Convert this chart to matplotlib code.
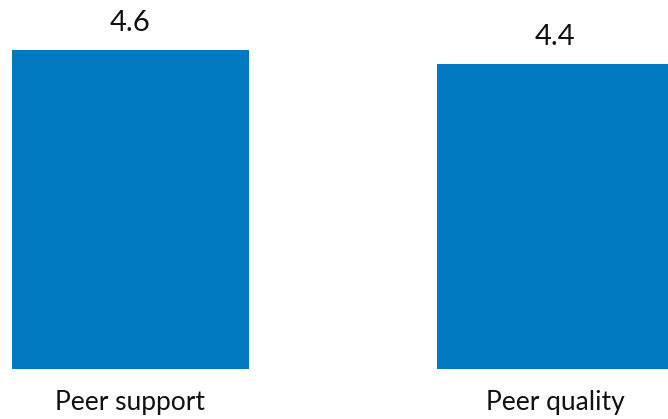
import matplotlib
matplotlib.use('Agg')
from matplotlib import pyplot as plt

# 数据
categories = ['Peer support', 'Peer quality']
values = [4.6, 4.4]
value_labels = ['4.6', '4.4']

plt.rcParams['font.family'] = ['Lato', 'DejaVu Sans']

fig = plt.figure(figsize=(6.68, 4.19), dpi=100)
ax = fig.add_axes([0, 0.1193, 1, 0.8807])

x = list(range(len(categories)))
bars = ax.bar(x, values, width=0.558, color='#0079C1')

for b, lab in zip(bars, value_labels):
    ax.annotate(lab, (b.get_x() + b.get_width() / 2, b.get_height()),
                xytext=(0, 10), textcoords='offset points',
                ha='center', va='bottom', fontsize=21, color='#111111')

ax.set_xlim(-0.307, 1.265)
ax.set_ylim(0, 5.32)
ax.set_xticks(x)
ax.set_xticklabels(categories, fontsize=19, color='#111111')
ax.tick_params(axis='x', length=0, pad=15)
ax.set_yticks([])
for s in ax.spines.values():
    s.set_visible(False)

fig.savefig('out.png', dpi=100)
